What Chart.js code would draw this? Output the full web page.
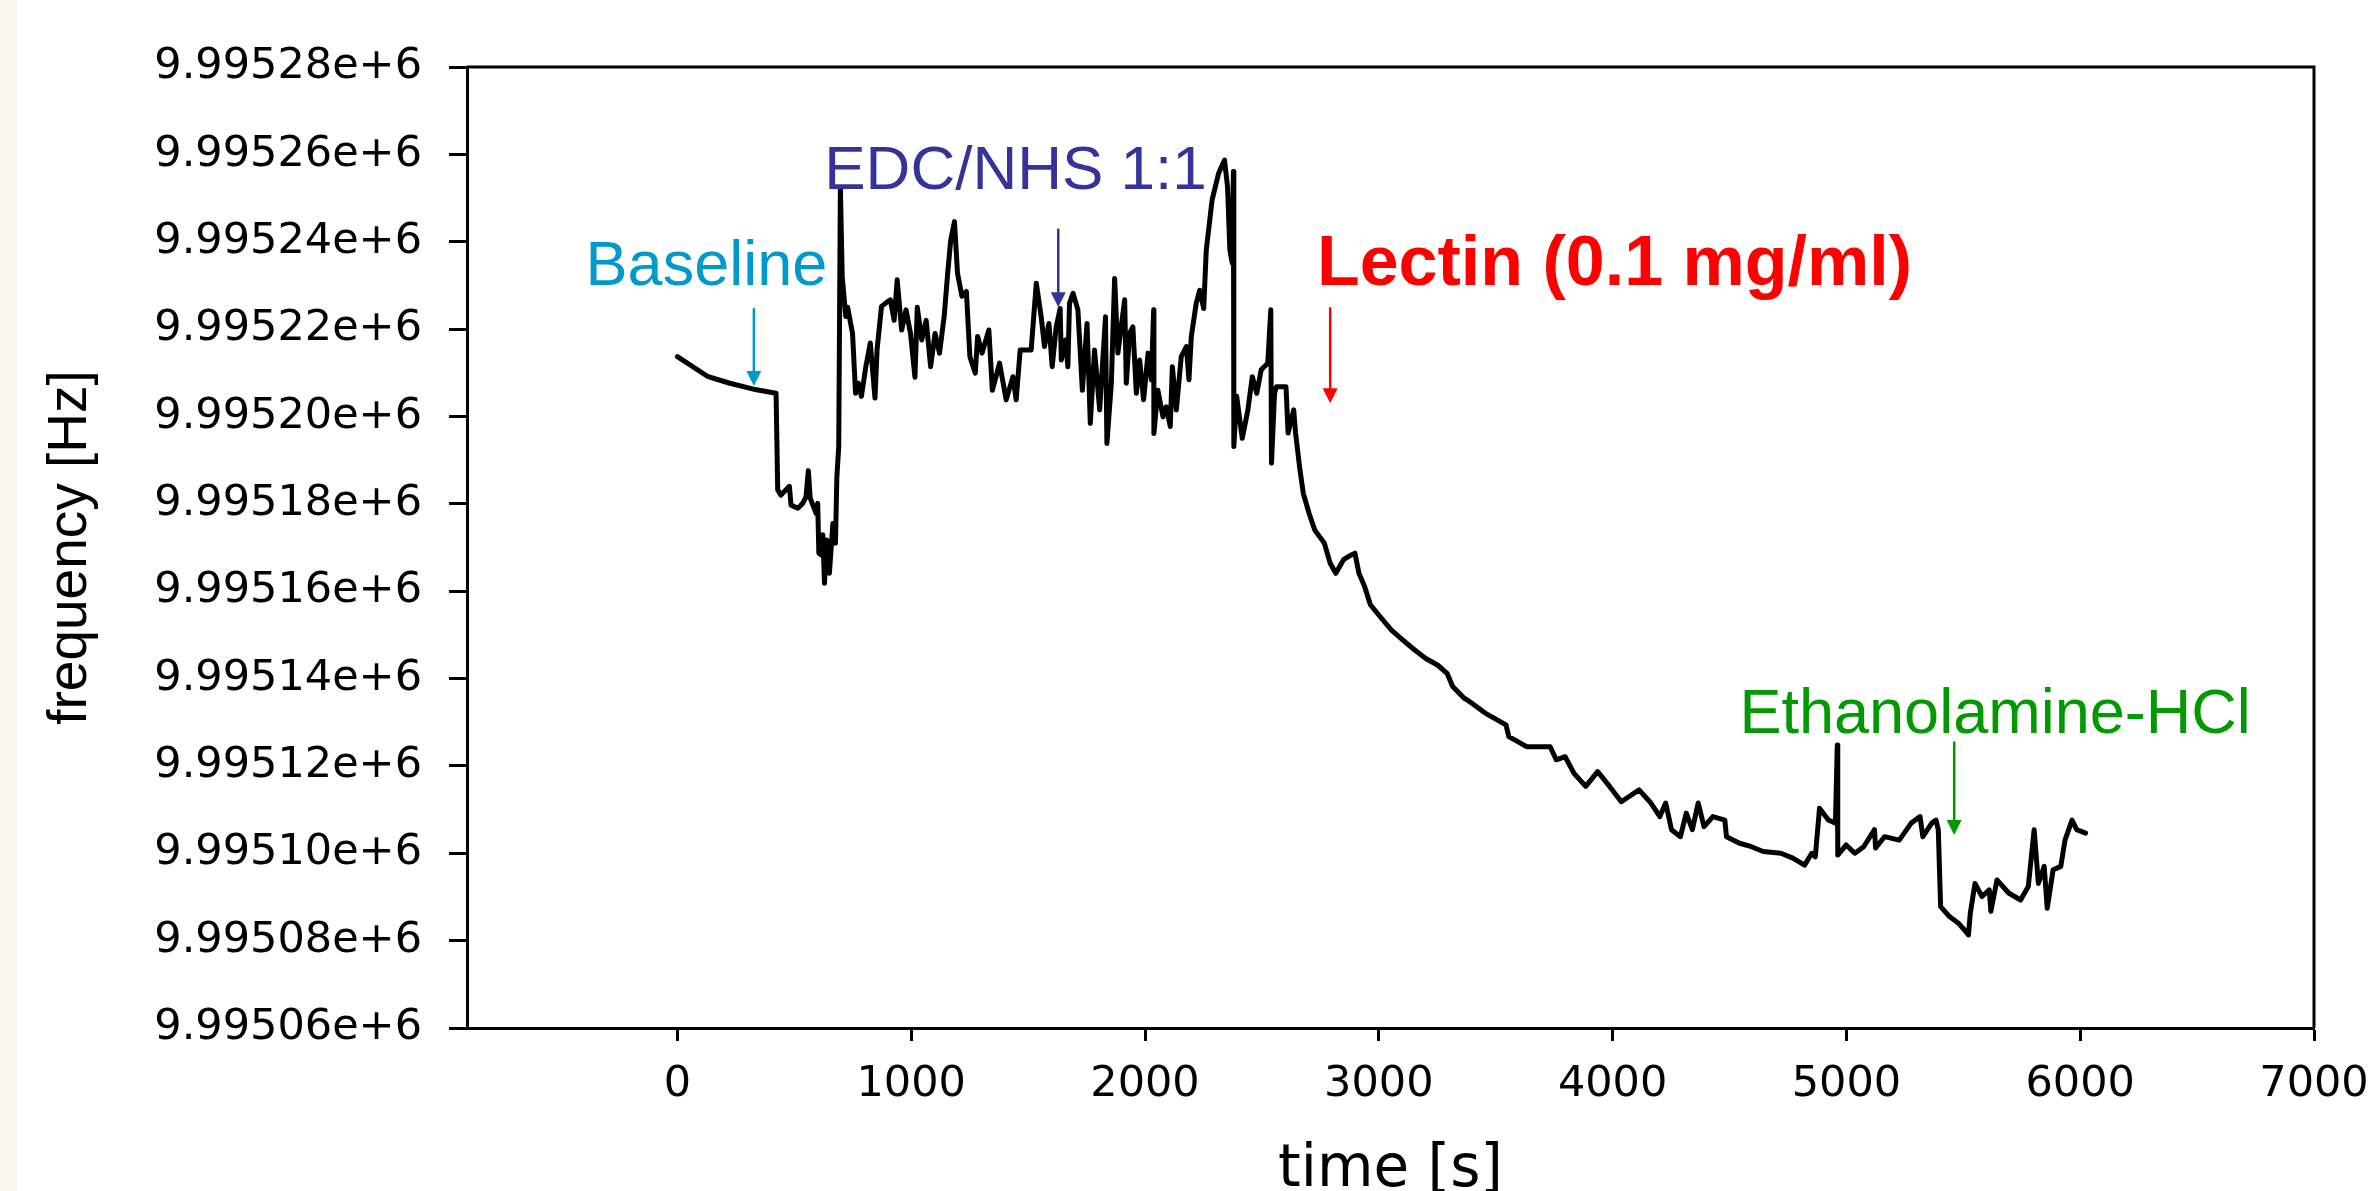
<!DOCTYPE html>
<html>
<head>
<meta charset="utf-8">
<script src="https://cdn.jsdelivr.net/npm/chart.js@4.4.1/dist/chart.umd.min.js"></script>
<style>
  html, body { margin: 0; padding: 0; }
  body { background: linear-gradient(to right, #fdf7f2 0, #fdf7f2 18px, #ffffff 18px); }
  #wrap { width: 2377px; height: 1191px; }
</style>
</head>
<body>
<div id="wrap"><canvas id="qcm" width="2377" height="1191"></canvas></div>
<script>
// QCM frequency trace
const timeS = [
  0, 128, 224, 338, 422, 429, 443, 479, 486, 515,
  536, 550, 560, 568, 593, 600, 605, 615, 622, 629,
  639, 650, 665, 676, 682, 690, 697, 705, 720, 728,
  749, 762, 774, 787, 806, 825, 845, 854, 873, 892,
  911, 927, 940, 959, 978, 997, 1016, 1026, 1045, 1064,
  1083, 1102, 1121, 1141, 1156, 1169, 1185, 1198, 1217, 1236,
  1251, 1274, 1284, 1303, 1332, 1347, 1378, 1406, 1435, 1449,
  1466, 1513, 1535, 1556, 1570, 1589, 1603, 1620, 1637, 1642,
  1660, 1670, 1677, 1692, 1713, 1732, 1752, 1766, 1784, 1806,
  1831, 1837, 1856, 1870, 1884, 1913, 1920, 1934, 1948, 1963,
  1977, 1994, 2013, 2027, 2037, 2038, 2055, 2077, 2091, 2108,
  2117, 2134, 2155, 2177, 2188, 2198, 2219, 2234, 2251, 2262,
  2287, 2315, 2340, 2353, 2363, 2373, 2378, 2380, 2392, 2416,
  2440, 2459, 2478, 2497, 2525, 2538, 2541, 2554, 2562, 2603,
  2612, 2636, 2644, 2661, 2677, 2702, 2726, 2767, 2792, 2816,
  2849, 2882, 2898, 2915, 2939, 2964, 3005, 3054, 3103, 3152,
  3201, 3251, 3292, 3316, 3365, 3379, 3455, 3544, 3556, 3632,
  3733, 3759, 3797, 3835, 3885, 3936, 3987, 4037, 4113, 4164,
  4202, 4227, 4252, 4290, 4315, 4341, 4366, 4391, 4429, 4480,
  4487, 4543, 4594, 4644, 4720, 4771, 4821, 4852, 4867, 4885,
  4923, 4953, 4961, 4963, 4999, 5036, 5074, 5120, 5125, 5163,
  5226, 5277, 5315, 5327, 5365, 5383, 5393, 5403, 5441, 5479,
  5504, 5522, 5530, 5550, 5580, 5611, 5618, 5644, 5694, 5745,
  5778, 5803, 5821, 5846, 5859, 5884, 5917, 5935, 5965, 5985,
  6023
];
const freqHz = [
  9995213.7, 9995209.2, 9995207.6, 9995206.1, 9995205.3, 9995183.2, 9995182.0, 9995184.0, 9995179.7, 9995179.0,
  9995180.1, 9995181.6, 9995187.6, 9995181.3, 9995177.8, 9995180.1, 9995168.7, 9995168.3, 9995172.9, 9995161.8,
  9995171.7, 9995164.1, 9995175.5, 9995171.0, 9995186.2, 9995193.1, 9995252.3, 9995232.0, 9995222.9, 9995225.0,
  9995219.0, 9995205.3, 9995207.6, 9995204.6, 9995211.4, 9995216.8, 9995204.2, 9995215.3, 9995225.2, 9995226.0,
  9995226.7, 9995222.0, 9995231.3, 9995219.8, 9995224.4, 9995219.0, 9995209.0, 9995225.0, 9995217.5, 9995222.0,
  9995211.4, 9995219.0, 9995214.5, 9995222.9, 9995232.8, 9995240.4, 9995244.6, 9995232.8, 9995227.5, 9995228.6,
  9995213.7, 9995209.9, 9995218.3, 9995214.5, 9995219.8, 9995206.0, 9995212.2, 9995203.8, 9995209.1, 9995203.8,
  9995215.2, 9995215.2, 9995230.5, 9995222.8, 9995216.0, 9995221.3, 9995211.4, 9995220.5, 9995224.7, 9995212.9,
  9995217.5, 9995211.4, 9995225.9, 9995228.2, 9995224.4, 9995206.0, 9995221.3, 9995198.4, 9995215.2, 9995201.5,
  9995222.8, 9995193.8, 9995207.6, 9995231.6, 9995214.5, 9995226.7, 9995207.6, 9995219.0, 9995220.5, 9995205.3,
  9995212.9, 9995203.8, 9995214.5, 9995208.4, 9995224.4, 9995196.1, 9995206.0, 9995199.9, 9995202.2, 9995197.7,
  9995211.4, 9995201.5, 9995213.7, 9995216.0, 9995208.4, 9995218.3, 9995225.9, 9995228.9, 9995224.7, 9995238.1,
  9995249.6, 9995255.7, 9995258.7, 9995252.6, 9995238.1, 9995235.1, 9995256.1, 9995193.1, 9995204.6, 9995195.0,
  9995201.5, 9995209.1, 9995205.3, 9995210.7, 9995212.2, 9995224.4, 9995189.3, 9995205.3, 9995206.8, 9995206.8,
  9995196.2, 9995201.5, 9995196.2, 9995188.5, 9995182.4, 9995177.8, 9995174.0, 9995171.0, 9995166.4, 9995164.1,
  9995167.2, 9995168.3, 9995168.7, 9995164.1, 9995161.1, 9995156.9, 9995154.2, 9995151.1, 9995148.8, 9995146.6,
  9995144.6, 9995143.1, 9995141.2, 9995138.2, 9995135.5, 9995135.1, 9995132.1, 9995129.4, 9995126.7, 9995124.4,
  9995124.4, 9995121.4, 9995122.1, 9995118.3, 9995115.3, 9995118.7, 9995115.3, 9995111.8, 9995114.5, 9995111.5,
  9995108.4, 9995111.5, 9995105.4, 9995103.8, 9995109.2, 9995105.4, 9995111.5, 9995106.1, 9995108.4, 9995107.6,
  9995103.8, 9995102.3, 9995101.5, 9995100.4, 9995100.0, 9995098.9, 9995097.3, 9995100.0, 9995099.2, 9995110.3,
  9995107.6, 9995106.9, 9995124.8, 9995099.6, 9995101.9, 9995100.0, 9995101.5, 9995105.4, 9995101.2, 9995103.8,
  9995103.0, 9995106.9, 9995108.4, 9995103.8, 9995106.9, 9995107.6, 9995105.4, 9995087.8, 9995085.5, 9995084.0,
  9995082.5, 9995081.3, 9995086.3, 9995093.1, 9995090.1, 9995091.6, 9995086.7, 9995093.9, 9995090.9, 9995089.3,
  9995092.4, 9995105.4, 9995093.1, 9995097.0, 9995087.4, 9995096.2, 9995097.0, 9995103.0, 9995107.6, 9995105.4,
  9995104.6
];

const xTicks = [0, 1000, 2000, 3000, 4000, 5000, 6000, 7000];
const yTicks = [9995060, 9995080, 9995100, 9995120, 9995140, 9995160, 9995180, 9995200, 9995220, 9995240, 9995260, 9995280];

// injection markers (text centre / baseline, arrow position)
const markerText = ['Baseline', 'EDC/NHS 1:1', 'Lectin (0.1 mg/ml)', 'Ethanolamine-HCl'];
const markerTextS = [124, 1446, 4008, 5636];
const markerTextHz = [9995230, 9995252, 9995230, 9995127.5];
const arrowS = [327, 1629, 2792, 5461];
const arrowFromHz = [9995224.8, 9995243, 9995225, 9995125.6];
const arrowToHz = [9995207, 9995225, 9995203, 9995104.2];

const markerColor = ['#0099cc', '#333399', '#ff0000', '#009900'];
const markerFont = [
  'normal 63px "Liberation Sans", Arial, sans-serif',
  'normal 62px "Liberation Sans", Arial, sans-serif',
  'bold 70px "Liberation Sans", Arial, sans-serif',
  'normal 63px "Liberation Sans", Arial, sans-serif'
];

const points = timeS.map((t, i) => ({ x: t, y: freqHz[i] }));

const frame = {
  id: 'frame',
  afterDraw(chart) {
    const { ctx, chartArea: a } = chart;
    ctx.save();
    ctx.strokeStyle = '#000';
    ctx.lineWidth = 3;
    ctx.beginPath();
    ctx.moveTo(a.left, a.top);
    ctx.lineTo(a.right, a.top);
    ctx.lineTo(a.right, a.bottom);
    ctx.stroke();
    ctx.restore();
  }
};

const markers = {
  id: 'markers',
  afterDatasetsDraw(chart) {
    const { ctx, scales: { x, y } } = chart;
    ctx.save();
    markerText.forEach((txt, i) => {
      ctx.fillStyle = markerColor[i];
      ctx.strokeStyle = markerColor[i];
      ctx.font = markerFont[i];
      ctx.textAlign = 'center';
      ctx.textBaseline = 'alphabetic';
      ctx.fillText(txt, x.getPixelForValue(markerTextS[i]), y.getPixelForValue(markerTextHz[i]));

      const ax = x.getPixelForValue(arrowS[i]);
      const y0 = y.getPixelForValue(arrowFromHz[i]);
      const y1 = y.getPixelForValue(arrowToHz[i]);
      const head = 15;
      ctx.lineWidth = 2.5;
      ctx.beginPath();
      ctx.moveTo(ax, y0);
      ctx.lineTo(ax, y1 - head + 1);
      ctx.stroke();
      ctx.beginPath();
      ctx.moveTo(ax - 7.5, y1 - head);
      ctx.lineTo(ax + 7.5, y1 - head);
      ctx.lineTo(ax, y1);
      ctx.closePath();
      ctx.fill();
    });
    ctx.restore();
  }
};

const tickFont = { family: '"DejaVu Sans", sans-serif', size: 43 };

new Chart(document.getElementById('qcm').getContext('2d'), {
  type: 'line',
  data: {
    datasets: [{
      data: points,
      borderColor: '#000',
      borderWidth: 5,
      borderJoinStyle: 'round',
      borderCapStyle: 'round',
      pointRadius: 0,
      tension: 0,
      fill: false
    }]
  },
  options: {
    responsive: false,
    animation: false,
    devicePixelRatio: 1,
    layout: { padding: { top: 67, right: 63, bottom: 0, left: 0 } },
    plugins: { legend: { display: false }, tooltip: { enabled: false } },
    scales: {
      x: {
        type: 'linear',
        min: -900,
        max: 7000,
        afterFit: s => { s.height = 163; s.paddingLeft = 0; s.paddingRight = 0; },
        afterBuildTicks: s => { s.ticks = xTicks.map(v => ({ value: v })); },
        border: { color: '#000', width: 3 },
        grid: { drawOnChartArea: false, color: '#000', tickLength: 13, tickWidth: 3 },
        ticks: {
          color: '#000',
          font: tickFont,
          padding: 18,
          maxRotation: 0,
          autoSkip: false,
          callback: v => String(v)
        },
        title: {
          display: true,
          text: 'time [s]',
          color: '#000',
          font: { family: '"DejaVu Sans", sans-serif', size: 58, lineHeight: 0.9 },
          padding: { top: 0, bottom: -6 }
        }
      },
      y: {
        type: 'linear',
        min: 9995060,
        max: 9995280,
        afterFit: s => { s.width = 467; s.paddingTop = 0; s.paddingBottom = 0; },
        afterBuildTicks: s => { s.ticks = yTicks.map(v => ({ value: v })); },
        border: { color: '#000', width: 3 },
        grid: { drawOnChartArea: false, color: '#000', tickLength: 18, tickWidth: 3 },
        ticks: {
          color: '#000',
          font: tickFont,
          padding: 27,
          autoSkip: false,
          callback: v => (v / 1e6).toFixed(5) + 'e+6'
        },
        title: {
          display: true,
          text: 'frequency [Hz]',
          color: '#000',
          font: { family: '"Liberation Sans", Arial, sans-serif', size: 55, lineHeight: 1.2 },
          padding: { top: 38, bottom: 0 }
        }
      }
    }
  },
  plugins: [frame, markers]
});
</script>
</body>
</html>
